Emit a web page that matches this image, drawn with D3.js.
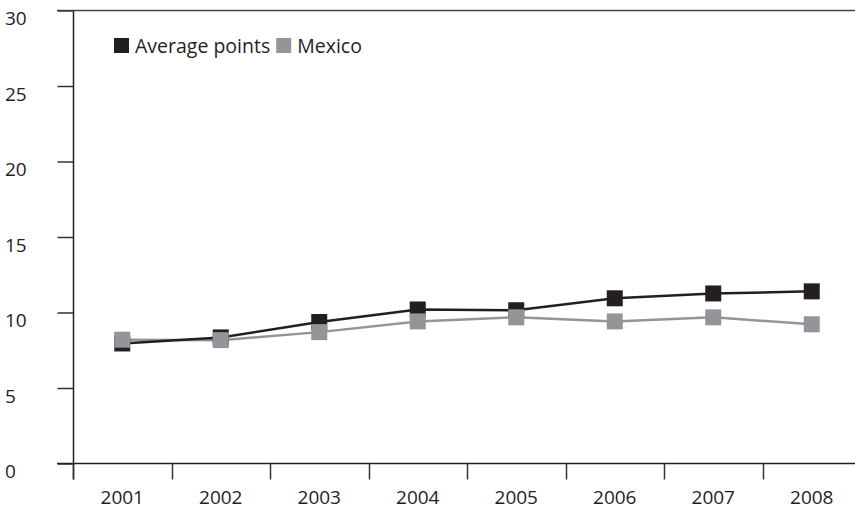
<!DOCTYPE html>
<html><head><meta charset="utf-8">
<script src="https://cdn.jsdelivr.net/npm/d3@7"></script>
<style>body{margin:0;background:#fff}svg{display:block}text{font-family:"Open Sans",Lato,sans-serif;fill:#231f20}</style>
</head><body>
<svg id="c" width="855" height="510"></svg>
<script>
const years = ["2001","2002","2003","2004","2005","2006","2007","2008"];
const averagePoints = [7.95, 8.35, 9.37, 10.2, 10.15, 10.94, 11.26, 11.4];
const mexico = [8.2, 8.17, 8.7, 9.41, 9.68, 9.41, 9.68, 9.22];
const yTicks = [0, 5, 10, 15, 20, 25, 30];
const seriesNames = ["Average points", "Mexico"];
const colors = ["#231f20", "#939598"];

const svg = d3.select("#c");
const x = d3.scaleBand().domain(years).range([73, 861]);
const y = d3.scaleLinear().domain([0, 30]).range([463.5, 10.5]);

// y axis
const ya = svg.append("g").attr("transform","translate(73.5,0)")
  .call(d3.axisLeft(y).tickValues(yTicks).tickSize(16).tickPadding(40).tickFormat(d3.format("d")));
ya.select(".domain").remove();
ya.append("line").attr("x1",0).attr("x2",0).attr("y1",y(30)).attr("y2",y(0)+16).attr("stroke","#231f20").attr("stroke-width",1.5);
ya.selectAll(".tick line").attr("stroke","#333").attr("stroke-width",1.5);
ya.selectAll(".tick text").attr("text-anchor","start").attr("x",-73.5+5).attr("font-size",19).attr("dy","0.76em");
// top line
svg.append("line").attr("x1",57).attr("x2",855).attr("y1",y(30)).attr("y2",y(30)).attr("stroke","#444").attr("stroke-width",1.5);

// x axis
const xa = svg.append("g").attr("transform",`translate(0,${y(0)})`)
  .call(d3.axisBottom(x).tickSize(0).tickPadding(27));
xa.select(".domain").remove();
xa.append("line").attr("x1",57).attr("x2",855).attr("stroke","#231f20").attr("stroke-width",1.5);
xa.selectAll(".tick text").attr("font-size",19);
const bounds = years.map(d => x(d)).concat([x(years[years.length-1]) + x.bandwidth()]);
xa.selectAll(".bt").data(bounds.filter(b => b < 855)).enter().append("line")
  .attr("x1", d => Math.round(d)+0.5).attr("x2", d => Math.round(d)+0.5).attr("y1",0).attr("y2",16)
  .attr("stroke","#333").attr("stroke-width",1.5);

// series
const data = [averagePoints, mexico];
const line = d3.line().x((d,i) => x(years[i]) + x.bandwidth()/2).y(d => y(d));
const sz = 16;
[1,0].forEach(s => {
  svg.append("path").datum(data[s]).attr("d", line).attr("fill","none")
    .attr("stroke", colors[s]).attr("stroke-width", 2.5);
});
[0,1].forEach(s => {
  svg.append("g").selectAll("rect").data(data[s]).enter().append("rect")
    .attr("x", (d,i) => x(years[i]) + x.bandwidth()/2 - sz/2)
    .attr("y", d => y(d) - sz/2).attr("width", sz).attr("height", sz)
    .attr("fill", colors[s]);
});

// legend
const lg = svg.append("g").attr("transform","translate(114,38)");
let lx = 0;
seriesNames.forEach((n,i) => {
  lg.append("rect").attr("x", lx).attr("y", 0).attr("width", 15).attr("height", 15).attr("fill", colors[i]);
  const t = lg.append("text").attr("x", lx + 21).attr("y", 14.5).attr("font-size", 19.5).text(n);
  lx += 21 + t.node().getComputedTextLength() + 6;
});
</script>
</body></html>
